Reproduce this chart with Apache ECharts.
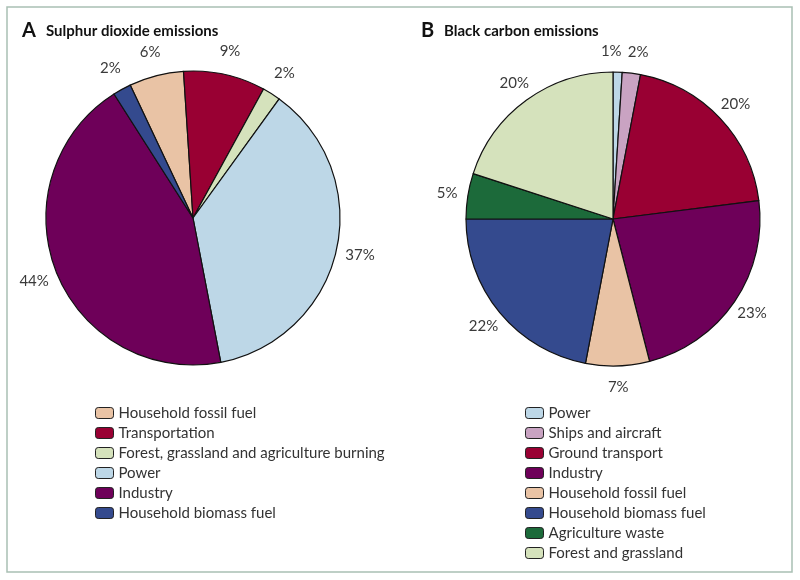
<!DOCTYPE html>
<html>
<head>
<meta charset="utf-8">
<script src="https://cdn.jsdelivr.net/npm/echarts@6/dist/echarts.min.js"></script>
<style>html,body{margin:0;padding:0;background:#fff}#c{width:800px;height:580px}</style>
</head>
<body>
<div id="c"></div>
<script>
// Panel A: Sulphur dioxide emissions
const soCategories = ['Household fossil fuel', 'Transportation', 'Forest, grassland and agriculture burning', 'Power', 'Industry', 'Household biomass fuel'];
const soValues = [6, 9, 2, 37, 44, 2];
const soColors = ['#e9c3a5', '#990033', '#d5e2bc', '#bdd7e7', '#6e0059', '#344a8e'];

// Panel B: Black carbon emissions
const bcCategories = ['Power', 'Ships and aircraft', 'Ground transport', 'Industry', 'Household fossil fuel', 'Household biomass fuel', 'Agriculture waste', 'Forest and grassland'];
const bcValues = [1, 2, 20, 23, 7, 22, 5, 20];
const bcColors = ['#bdd7e7', '#c9a3c2', '#990033', '#6e0059', '#e9c3a5', '#344a8e', '#1c6a3a', '#d5e2bc'];
// small horizontal nudges of the crowded labels at the top of panel B
const bcLabelNudge = [-7, 4, 0, 0, 0, 0, 0, 0];

const FONT = 'Lato';
const chart = echarts.init(document.getElementById('c'), null, {renderer: 'canvas'});

// names in panel B get a zero-width suffix so the two legends stay independent
const bcKeys = bcCategories.map(n => n + '\u200b');

function pieData(keys, vals, cols) {
  return keys.map((n, i) => ({name: n, value: vals[i], itemStyle: {color: cols[i]}}));
}
function labelData(keys, vals, nudge) {
  return keys.map((n, i) => ({name: n + '\u200c', value: vals[i],
    label: nudge ? {offset: [nudge[i], 0]} : undefined}));
}

function slices(center, startAngle, keys, vals, cols) {
  return {
    type: 'pie', center: center, radius: [0, 147], startAngle: startAngle, clockwise: true,
    silent: true, animation: false,
    itemStyle: {borderColor: '#111', borderWidth: 1.2},
    label: {show: false}, labelLine: {show: false},
    data: pieData(keys, vals, cols)
  };
}
function labels(center, startAngle, keys, vals, r, nudge) {
  return {
    type: 'pie', center: center, radius: [0, 2 * r], startAngle: startAngle, clockwise: true,
    silent: true, animation: false, z: 5, legendHoverLink: false,
    avoidLabelOverlap: false, minShowLabelAngle: 0,
    labelLayout: {hideOverlap: false},
    itemStyle: {color: 'rgba(0,0,0,0)', borderWidth: 0},
    label: {show: true, position: 'inside', formatter: '{c}%', color: '#3a3a3a',
      fontFamily: FONT, fontSize: 15, fontWeight: 'normal', overflow: 'none'},
    labelLine: {show: false},
    data: labelData(keys, vals, nudge)
  };
}

const legendText = {fontFamily: FONT, fontSize: 15, color: '#333', lineHeight: 16};

chart.setOption({
  animation: false,
  graphic: [
    {type: 'rect', shape: {x: 7, y: 7, width: 785, height: 565}, style: {fill: 'none', stroke: '#a9c0b4', lineWidth: 1.5}},
    {type: 'text', left: 22, top: 21, style: {text: 'A', font: 'bold 20px ' + FONT, fill: '#111'}},
    {type: 'text', left: 46, top: 24, style: {text: 'Sulphur dioxide emissions', font: 'bold 15px ' + FONT, fill: '#111'}},
    {type: 'text', left: 421, top: 21, style: {text: 'B', font: 'bold 20px ' + FONT, fill: '#111'}},
    {type: 'text', left: 444, top: 24, style: {text: 'Black carbon emissions', font: 'bold 15px ' + FONT, fill: '#111'}}
  ],
  legend: [
    {orient: 'vertical', left: 95, top: 405, padding: 0, itemWidth: 18, itemHeight: 11, itemGap: 4,
      data: soCategories, selectedMode: false, textStyle: legendText,
      itemStyle: {borderColor: '#222', borderWidth: 1}},
    {orient: 'vertical', left: 525, top: 405, padding: 0, itemWidth: 18, itemHeight: 11, itemGap: 4,
      data: bcKeys, selectedMode: false, textStyle: legendText,
      formatter: n => n.replace('\u200b', ''),
      itemStyle: {borderColor: '#222', borderWidth: 1}}
  ],
  series: [
    slices([193, 218], 115.3, soCategories, soValues, soColors),
    labels([193, 218], 115.3, soCategories, soValues, 168, null),
    slices([613, 219], 90, bcKeys, bcValues, bcColors),
    labels([613, 219], 90, bcKeys, bcValues, 165, bcLabelNudge)
  ]
});
</script>
</body>
</html>
